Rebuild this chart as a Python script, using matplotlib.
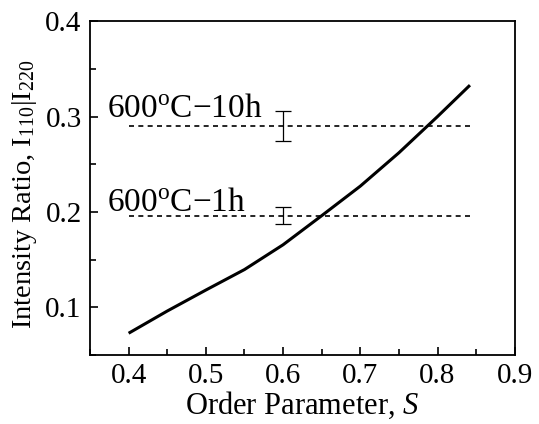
import matplotlib
matplotlib.use("Agg")
import matplotlib.pyplot as plt
from matplotlib.ticker import MultipleLocator

plt.rcParams['font.family'] = ['Liberation Serif', 'DejaVu Serif']
plt.rcParams['mathtext.fontset'] = 'custom'
plt.rcParams['mathtext.rm'] = 'Liberation Serif'
plt.rcParams['mathtext.it'] = 'Liberation Serif:italic'

# Curve data
order_param = [0.40, 0.45, 0.50, 0.55, 0.60, 0.65, 0.70, 0.75, 0.80, 0.842]
intensity_ratio = [0.0727, 0.0960, 0.1180, 0.1395, 0.1655, 0.1960, 0.2270, 0.2620, 0.3000, 0.3329]

# Measured levels
labels = ['600$^{\\rm o}$C\u221210h', '600$^{\\rm o}$C\u22121h']
levels = [0.290, 0.196]
errors = [0.016, 0.009]
label_y = [0.300, 0.201]
meas_x = 0.6
dash_range = [0.40, 0.843]

fig = plt.figure(figsize=(5.39, 4.24), dpi=100)
ax = fig.add_axes([0.167, 0.163, 0.788, 0.787])

ax.plot(order_param, intensity_ratio, color='black', lw=2.2, solid_capstyle='butt',
        solid_joinstyle='round')

for lab, lv, er, ly in zip(labels, levels, errors, label_y):
    ax.plot(dash_range, [lv, lv], color='black', lw=1.2, linestyle=(0, (3.0, 2.6)))
    ax.errorbar([meas_x], [lv], yerr=[er], fmt='none', ecolor='black',
                elinewidth=0.9, capsize=5.5, capthick=0.9)
    ax.text(0.372, ly, lab, fontsize=24, ha='left', va='baseline')

ax.set_xlim(0.35, 0.9)
ax.set_ylim(0.05, 0.4)
ax.xaxis.set_minor_locator(MultipleLocator(0.05))
ax.yaxis.set_minor_locator(MultipleLocator(0.05))
ax.set_xticks([0.4, 0.5, 0.6, 0.7, 0.8, 0.9])
ax.set_xticklabels(['0.4', '0.5', '0.6', '0.7', '0.8', '0.9'])
ax.set_yticks([0.1, 0.2, 0.3, 0.4])
ax.set_yticklabels(['0.1', '0.2', '0.3', '0.4'])
ax.tick_params(which='both', direction='in', top=False, right=False, labelsize=21, width=1.2)
ax.tick_params(which='major', length=6, pad=6)
ax.tick_params(which='minor', length=4)
for s in ax.spines.values():
    s.set_linewidth(1.3)

ax.set_xlabel('Order Parameter, $\\it{S}$', fontsize=22, labelpad=0)
ax.set_ylabel('Intensity Ratio, I$_{110}$|I$_{220}$', fontsize=20.5)
ax.yaxis.set_label_coords(-0.12, 0.482)

fig.savefig('out.png', dpi=100)
